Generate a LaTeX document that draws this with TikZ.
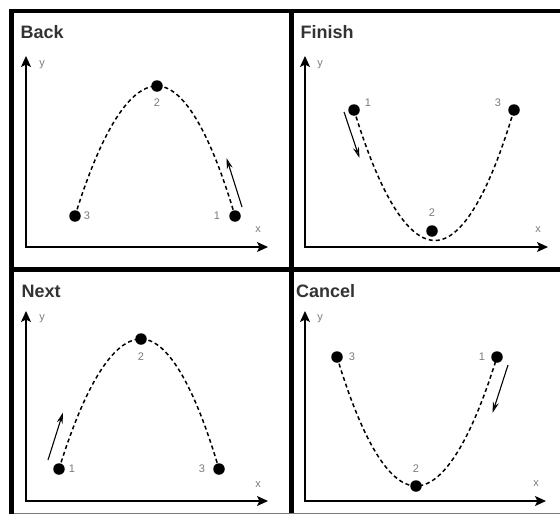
\documentclass[tikz,border=0pt]{standalone}
\usepackage{fontspec}
\setmainfont{Liberation Sans}
\usepackage{xcolor}
\usepackage{tikz}
\usetikzlibrary{arrows.meta}
\definecolor{titlegray}{HTML}{333333}
\definecolor{labgray}{HTML}{7A7A7A}
\tikzset{
  % --- frame and axes --------------------------------------------------------
  frame/.style={line width=4.6pt,black},
  axis/.style={line width=1.3pt,black,
               {Stealth[length=11pt,width=10pt,inset=2.5pt]}-{Stealth[length=11pt,width=10pt,inset=2.5pt]}},
  % --- texts -----------------------------------------------------------------
  title/.style={anchor=base west,inner sep=0pt,font=\fontsize{18}{18}\selectfont\bfseries,
                text=titlegray},
  lab/.style={inner sep=0pt,font=\fontsize{11}{11}\selectfont,text=labgray},
  % --- points, path, motion --------------------------------------------------
  dot/.style={circle,fill=black,inner sep=0pt,minimum size=11.5pt},
  track/.style={line width=1.5pt,dash pattern=on 4pt off 3pt},
  move/.style={line width=1.1pt,-{Stealth[open,length=11pt,width=6pt]}},
}

\begin{document}
\begin{tikzpicture}[x=1pt, y=-1pt]
  \useasboundingbox (0,0) rectangle (560,514);
  % frame
  \draw[frame] (9.2,10.8) -- (560,10.8);
  \draw[frame] (11.5,8.5) -- (11.5,514);
  \draw[frame] (291.3,8.5) -- (291.3,514);
  \draw[frame] (9.2,269.7) -- (560,269.7);
  \draw[labgray,line width=1.4pt] (13.8,513.3) -- (560,513.3);

  % Back
  \node[title] (tback) at (20.5,38) {Back};
  \coordinate (bo) at (26,247);
  \coordinate (by) at (26,56);
  \coordinate (bx) at (268,247);
  \draw[axis] (by) -- (bo) -- (bx);
  \node[lab] (byl) at (42,65) {y};
  \node[lab] (bxl) at (258,230) {x};
  \node[dot] (b3) at (75,216) {};
  \node[dot] (b2) at (157,86) {};
  \node[dot] (b1) at (235,216) {};
  \draw[track] (b3.center) parabola bend (b2.center) (b1.center);
  \node[lab] at (87,216) {3};
  \node[lab] at (157,103) {2};
  \node[lab] at (217,216) {1};
  \coordinate (bm0) at (242,207);
  \coordinate (bm1) at (226.5,158);
  \draw[move] (bm0) -- (bm1);

  % Finish
  \node[title] (tfinish) at (300.5,38) {Finish};
  \coordinate (fo) at (305,247);
  \coordinate (fy) at (305,56);
  \coordinate (fx) at (548,247);
  \draw[axis] (fy) -- (fo) -- (fx);
  \node[lab] (fyl) at (320,65) {y};
  \node[lab] (fxl) at (538,230) {x};
  \node[dot] (f1) at (354,110) {};
  \node[dot] (f2) at (432,231) {};
  \node[dot] (f3) at (514,110) {};
  \coordinate (fb) at (435,240.5);
  \draw[track] (f1.center) parabola bend (fb) (f3.center);
  \node[lab] at (368,103) {1};
  \node[lab] at (432,213) {2};
  \node[lab] at (498,103) {3};
  \coordinate (fm0) at (344,112);
  \coordinate (fm1) at (359.5,158);
  \draw[move] (fm0) -- (fm1);

  % Next
  \node[title] (tnext) at (21.5,297) {Next};
  \coordinate (no) at (26,501);
  \coordinate (ny) at (26,311);
  \coordinate (nx) at (268,501);
  \draw[axis] (ny) -- (no) -- (nx);
  \node[lab] (nyl) at (42,319) {y};
  \node[lab] (nxl) at (258,485) {x};
  \node[dot] (n1) at (59,469) {};
  \node[dot] (n2) at (141,339) {};
  \node[dot] (n3) at (219,469) {};
  \draw[track] (n1.center) parabola bend (n2.center) (n3.center);
  \node[lab] at (72,469) {1};
  \node[lab] at (141,357) {2};
  \node[lab] at (202,469) {3};
  \coordinate (nm0) at (48,460);
  \coordinate (nm1) at (63,412.5);
  \draw[move] (nm0) -- (nm1);

  % Cancel
  \node[title] (tcancel) at (296,297) {Cancel};
  \coordinate (co) at (305,501);
  \coordinate (cy) at (305,311);
  \coordinate (cx) at (546,501);
  \draw[axis] (cy) -- (co) -- (cx);
  \node[lab] (cyl) at (320,319) {y};
  \node[lab] (cxl) at (536,484) {x};
  \node[dot] (c3) at (337,357) {};
  \node[dot] (c2) at (416,486) {};
  \node[dot] (c1) at (497,357) {};
  \draw[track] (c3.center) parabola bend (c2.center) (c1.center);
  \node[lab] at (352,357) {3};
  \node[lab] at (482,357) {1};
  \node[lab] at (416,469) {2};
  \coordinate (cm0) at (508,365);
  \coordinate (cm1) at (492.5,413);
  \draw[move] (cm0) -- (cm1);
\end{tikzpicture}
\end{document}
